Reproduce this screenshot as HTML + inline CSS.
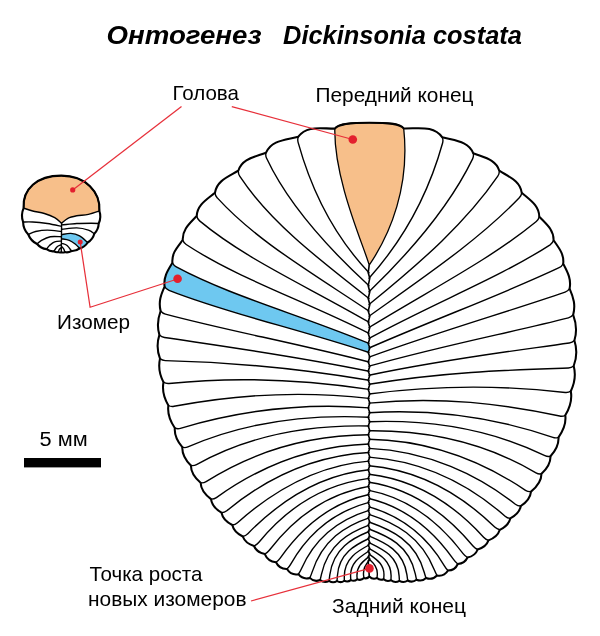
<!DOCTYPE html>
<html lang="ru"><head><meta charset="utf-8"><title>Онтогенез Dickinsonia costata</title>
<style>
html,body{margin:0;padding:0;background:#fff}
svg{display:block}
text{font-family:"Liberation Sans",sans-serif;fill:#000}
svg{will-change:transform;opacity:.999}
.t{font-size:25px;font-weight:bold;font-style:italic}
.l{font-size:20.7px}
.r{stroke:#e7303a;stroke-width:1.25;fill:none}
.d{fill:#e3202e}
</style></head><body>
<svg width="600" height="636" viewBox="0 0 600 636">
<rect width="600" height="636" fill="#fff"/>
<text class="t" x="106.5" y="44.0" textLength="155.0" lengthAdjust="spacingAndGlyphs">Онтогенез</text>
<text class="t" x="283.0" y="44.0" textLength="239.0" lengthAdjust="spacingAndGlyphs">Dickinsonia costata</text>
<text class="l" x="172.5" y="100.0" textLength="66.5" lengthAdjust="spacingAndGlyphs">Голова</text>
<text class="l" x="315.5" y="102.4" textLength="158.0" lengthAdjust="spacingAndGlyphs">Передний конец</text>
<text class="l" x="57.0" y="328.7" textLength="73.0" lengthAdjust="spacingAndGlyphs">Изомер</text>
<text class="l" x="39.5" y="446.0" textLength="48.1" lengthAdjust="spacingAndGlyphs">5 мм</text>
<text class="l" x="89.5" y="581.0" textLength="113.0" lengthAdjust="spacingAndGlyphs">Точка роста</text>
<text class="l" x="88.0" y="605.6" textLength="158.5" lengthAdjust="spacingAndGlyphs">новых изомеров</text>
<text class="l" x="332.0" y="612.5" textLength="134.0" lengthAdjust="spacingAndGlyphs">Задний конец</text>

<rect x="24" y="458" width="77" height="9.4" fill="#000"/>
<!-- big specimen -->
<path d="M369.3,576.5C368,578.1 366,578.7 364,578.1C362.1,579.9 359.6,580.3 357.2,579.2C355.4,580.8 353,581.2 350.8,580.1C348.9,581.6 346.5,581.9 344.3,580.7C342.1,582.4 339.4,582.5 337,581C334.5,582.7 331.5,582.6 329.1,580.9C326.1,582.5 322.8,582.2 320.1,580C316.5,581.6 312.6,580.8 309.8,577.9C305.4,579.2 301.2,577.8 298.4,574.2C293.7,575 289.5,573.1 287,569C282.1,569.2 278.1,566.7 276,562.3C270.7,561.7 266.8,558.9 264.8,554.1C259.8,553.1 256,550.7 254,546C248.7,544.3 244.7,541.8 242.8,536.5C237.5,533.9 233.6,530.8 232.3,525C226.8,522.2 222.7,518.8 221.5,512.7C215.9,509.3 211.9,505.6 211,499.1C205.1,494.7 200.9,490.1 200.6,482.8C194.9,477.9 190.9,473 190.9,465.5C185.5,460.1 182,454.9 182.3,447.2C177.2,441.2 174.2,435.8 174.8,428C169.8,420.6 167.1,414.3 168.4,405.5C163.8,397.7 161.8,391.1 163.5,382.2C159.3,374.1 158,367.5 160,358.6C156.8,350.2 156.6,343.5 159.4,334.9C156.7,326.2 157.5,319.5 160.6,311C158.4,301.9 160.7,295.1 164.6,286.6C163.3,277.2 167.4,270.9 172.4,262.8C171.6,253.3 177,247.6 182.7,240C182.3,229.4 189.5,223.7 196.7,216C197.2,204.8 206.3,199.8 215,192.7C216.9,180.7 227.9,177 238.3,170.7C242.1,158.7 254.3,157.2 266,152.7C271.4,140.1 285,140.1 298.3,136.7C306.6,125.2 320.6,128.7 334.8,128.6C338.5,123.4 352,122.7 369.4,122.7C386.5,122.7 400,123.3 403.7,128.4C418.8,128.7 433.6,125 442.3,137.3C455.1,140.8 468.3,141 473.3,153.3C484.4,157.7 495.8,159.3 499.3,170.7C509.4,177.1 520.1,180.9 521.7,192.7C530.2,200.2 539.1,205.4 539.3,216.7C546.6,224.3 553.8,229.8 553.6,240.3C559.1,248.2 564.3,254.2 563.2,263.8C567.7,272.4 571.5,279.1 569.6,288.6C573.6,297.8 575.7,305.1 573.2,314.8C576.6,324 577.3,331.2 574.4,340.5C577.4,349.7 577.1,356.9 573.7,366C576.2,375.3 574.9,382.5 570.8,391.2C572.5,400.4 570.1,407.2 565.3,415.3C566.4,424 563.6,430.2 558.5,437.3C559,445.1 555.8,450.5 550.5,456.3C550.7,463.8 547,468.7 541.5,473.8C541.4,481.7 537.1,486.7 531,491.6C530.4,498.3 526.4,502.3 520.8,506C519.7,512.1 515.7,515.5 510.3,518.4C509,524.1 505.1,527.2 499.8,529.8C498.1,535.4 494,538.3 488.5,540.4C486.7,545.4 482.9,548 477.7,549.5C475.9,554.1 472.3,556.6 467.5,557.5C465.7,561.5 462.2,563.7 457.8,564C456,568.1 452.5,570.5 448,570.5C445.6,574.4 441.5,576.3 437,575.5C434.1,578.6 430,579.5 426,578C423.4,580.6 419.9,581.2 416.5,579.7C413.9,581.8 410.6,582.1 407.7,580.5C405.1,582.4 402.1,582.5 399.4,580.8C396.6,582.4 393.5,582.2 391,580.2C388.5,581.4 385.8,581.1 383.7,579.2C381.3,580.2 378.9,579.8 377,578C374.3,579.2 371.4,578.6 369.3,576.5Z" fill="#fff" stroke="none"/>
<path d="M369.2,265.1 C363.5,245 334,180 334.8,128.6C338.5,123.4 352,122.7 369.4,122.7C386.5,122.7 400,123.3 403.7,128.4C410,186 390.5,234 369.2,265.1Z" fill="#f7bf8a" stroke="#000" stroke-width="1.3" stroke-linejoin="round"/>
<path d="M369,343.4C296.2,313.3 231.1,296.3 176.3,266.9Q173.7,265.5 172.4,262.8C167.4,270.9 163.3,277.2 164.6,286.6Q166.2,289.2 169,290.3C227.4,313.4 293.4,327.6 369,352.5Z" fill="#6ec8f0" stroke="none"/>
<path d="M369,278.2C408,234.8 430.1,187.8 442.6,143Q443.4,140.1 442.3,137.3M369,291.8C415.1,247.3 450.5,204.4 472.6,158.9Q473.9,156.2 473.3,153.3M369,304.5C422.7,261 467,221.2 497.8,176.2Q499.5,173.7 499.3,170.7M369,316.2C428.2,274 479.5,239.2 519.3,197.8Q521.4,195.7 521.7,192.7M369,327.5C433.2,288.2 490.4,259.2 536.3,221.5Q538.6,219.6 539.3,216.7M369,338.4C437.1,301.4 498.7,278 550.1,244.8Q552.6,243.1 553.6,240.3M369,348C440.9,316.7 503.1,294.2 559.1,267.7Q561.8,266.5 563.2,263.8M369,357.1C442.8,330.3 506.5,312.3 565.1,292.1Q567.9,291.1 569.6,288.6M369,366.2C444.1,345.1 508.7,333 568.4,317.9Q571.3,317.1 573.2,314.8M369,375.3C444.4,359.3 509,351.6 569.3,343Q572.3,342.6 574.4,340.5M369,384.3C444,371.8 508.4,370 568.4,368Q571.4,367.9 573.7,366M369,394C443,384.3 506.8,385.7 565.3,392.5Q568.3,392.8 570.8,391.2M369,403.1C441.3,395.9 503.6,404.2 559.7,416Q562.6,416.7 565.3,415.3M369,412.7C439.4,408.4 500.2,419.2 552.9,437.4Q555.7,438.4 558.5,437.3M369,421.7C437,419.3 496.6,432.1 544.9,455.7Q547.6,457 550.5,456.3M369,430.8C434.4,430.2 491.5,446.5 536,472.8Q538.5,474.3 541.5,473.8M369,439.3C431.5,440.4 484.5,462.8 525.5,490.3Q528,491.9 531,491.6M369,448.4C428.5,451 478.5,475.2 515.4,504.3Q517.8,506.1 520.8,506M369,457.1C424.4,461 470.5,485.8 505.1,516.2Q507.3,518.2 510.3,518.4M369,465.7C420.2,470.2 462.2,495.3 494.7,527.1Q496.9,529.2 499.8,529.8M369,474.2C415.7,479.5 453.6,504.2 483.6,537.2Q485.7,539.5 488.5,540.4M369,482.3C411.4,488.6 445.1,512.6 473,546Q475,548.3 477.7,549.5M369,490.4C407.2,497.8 437.6,519.9 463.1,553.6Q464.9,555.9 467.5,557.5M369,498.5C403.1,506.7 430.4,526.5 453.7,559.7Q455.4,562.2 457.8,564M369,506.8C399.2,515.5 424.7,532.5 444.4,565.8Q445.9,568.4 448,570.5M369,514.3C395.1,522.8 421.1,536.4 434.4,570.1Q435.5,572.9 437,575.5M369,522C390.7,529.7 415.6,540.4 424.2,572.3Q425,575.2 426,578M369,529C387,535.9 409.2,544.8 415.3,573.8Q415.9,576.8 416.5,579.7M369,536C383.9,542.3 403.4,550 406.9,574.7Q407.3,577.6 407.7,580.5M369,542.5C381.1,548.4 397.9,555.3 399.1,575.9Q399.3,578.4 399.4,580.8M369,548.5C378.2,553.8 391.4,560 391.1,576.3Q391,578.3 391,580.2M369,554C375.5,558.7 384.9,564 383.9,576.3Q383.8,577.7 383.7,579.2M369,559C373.1,562.9 378.3,567.3 377.2,576Q377.1,577 377,578M369,272.7C330.8,232.5 310.5,187 298.1,142.4Q297.3,139.5 298.3,136.7M369,285.7C323.2,243.7 287.4,202.7 266.6,158.3Q265.3,155.6 266,152.7M369,298.5C315.7,256.9 269.1,220.8 239.7,176.2Q238.1,173.7 238.3,170.7M369,311.1C309.2,271.1 255.5,239.9 217.3,197.9Q215.2,195.7 215,192.7M369,322.2C304.1,284.7 245.1,258.8 199.6,220.9Q197.3,218.9 196.7,216M369,333.3C299.9,298.8 237.1,278.1 186.2,244.5Q183.7,242.8 182.7,240M369,343.4C296.2,313.3 231.1,296.3 176.3,266.9Q173.7,265.5 172.4,262.8M369,352.5C293.4,327.6 227.4,313.4 169,290.3Q166.2,289.2 164.6,286.6M369,362C292,342.3 226,330.3 165.4,314.1Q162.5,313.3 160.6,311M369,371.3C291.8,355.5 226,346.7 164.5,337.5Q161.5,337 159.4,334.9M369,380.3C292.3,367.3 226.7,362.1 165.3,360.6Q162.3,360.5 160,358.6M369,389.4C293.8,378.2 228.7,377.2 169,383.5Q166,383.8 163.5,382.2M369,398.4C295.3,389.9 231.5,395.3 174,406.3Q171.1,406.9 168.4,405.5M369,407.9C297.2,402.1 235,412 180.4,428.3Q177.6,429.2 174.8,428M369,417.2C299.4,413.9 238.4,425 187.9,446.9Q185.2,448.1 182.3,447.2M369,426C301.8,424.5 242.8,438.8 196.5,464.6Q193.8,466.1 190.9,465.5M369,434.8C304.6,435.1 249.1,454.5 206.1,481.6Q203.6,483.2 200.6,482.8M369,444C307.6,445.9 255.8,469.3 216.4,497.6Q214,499.3 211,499.1M369,452.5C310.8,455.8 262.4,481.2 226.8,510.8Q224.5,512.7 221.5,512.7M369,461.1C315.2,465.3 271.8,492.2 237.5,522.7Q235.3,524.7 232.3,525M369,469.8C319.3,474.8 279.6,501.3 247.8,533.7Q245.7,535.8 242.8,536.5M369,478.4C323.9,484.3 286.7,508.2 258.7,542.5Q256.8,544.8 254,546M369,486.4C328.4,493.4 295.5,516.1 269.3,550.3Q267.5,552.6 264.8,554.1M369,494.5C332.7,502.4 304.1,524.2 280.2,558.1Q278.4,560.6 276,562.3M369,502.4C337,510.8 310.2,529.9 290.6,564.3Q289.1,566.9 287,569M369,510.3C341.4,518.7 316.1,534.9 301.3,569Q300.1,571.7 298.4,574.2M369,517.8C345.6,525.7 322.5,539.7 312,572.4Q311.1,575.2 309.8,577.9M369,525.2C349.6,532.4 328.1,543.9 321.5,574.2Q320.9,577.1 320.1,580M369,531.5C352.7,538.1 333.3,548.2 329.8,574.9Q329.4,577.9 329.1,580.9M369,538.5C355.7,544.6 338.8,553.3 337.4,575.7Q337.2,578.4 337,581M369,545C358.4,550.6 344.4,558 344.3,576.4Q344.3,578.6 344.3,580.7M369,551C361.1,556.2 350,562.1 350.6,576.6Q350.7,578.3 350.8,580.1M369,556.6C363.6,561.1 356.2,565.9 357,576.7Q357.1,577.9 357.2,579.2M369,560.7C365.6,564.3 362.5,568.8 363.7,576.3Q363.9,577.2 364,578.1" fill="none" stroke="#000" stroke-width="1.4" stroke-linecap="round"/>
<path d="M369.2,265.1L368.2,272.7L369.8,278.2L368.2,285.7L369.8,291.8L368.2,298.5L369.8,304.5L368.2,311.1L369.8,316.2L368.2,322.2L369.8,327.5L368.2,333.3L369.8,338.4L368.2,343.4L369.8,348L368.2,352.5L369.8,357.1L368.2,362L369.8,366.2L368.2,371.3L369.8,375.3L368.2,380.3L369.8,384.3L368.2,389.4L369.8,394L368.2,398.4L369.8,403.1L368.2,407.9L369.8,412.7L368.2,417.2L369.8,421.7L368.2,426L369.8,430.8L368.2,434.8L369.8,439.3L368.2,444L369.8,448.4L368.2,452.5L369.8,457.1L368.2,461.1L369.8,465.7L368.2,469.8L369.8,474.2L368.2,478.4L369.8,482.3L368.2,486.4L369.8,490.4L368.2,494.5L369.8,498.5L368.2,502.4L369.8,506.8L368.2,510.3L369.8,514.3L368.2,517.8L369.8,522L368.2,525.2L369.8,529L368.2,531.5L369.8,536L368.2,538.5L369.8,542.5L368.2,545L369.8,548.5L368.2,551L369.8,554L368.2,556.6L369.8,559L368.2,560.7L369.3,576.5" fill="none" stroke="#000" stroke-width="1.6" stroke-linejoin="round"/>
<path d="M369.3,576.5C368,578.1 366,578.7 364,578.1C362.1,579.9 359.6,580.3 357.2,579.2C355.4,580.8 353,581.2 350.8,580.1C348.9,581.6 346.5,581.9 344.3,580.7C342.1,582.4 339.4,582.5 337,581C334.5,582.7 331.5,582.6 329.1,580.9C326.1,582.5 322.8,582.2 320.1,580C316.5,581.6 312.6,580.8 309.8,577.9C305.4,579.2 301.2,577.8 298.4,574.2C293.7,575 289.5,573.1 287,569C282.1,569.2 278.1,566.7 276,562.3C270.7,561.7 266.8,558.9 264.8,554.1C259.8,553.1 256,550.7 254,546C248.7,544.3 244.7,541.8 242.8,536.5C237.5,533.9 233.6,530.8 232.3,525C226.8,522.2 222.7,518.8 221.5,512.7C215.9,509.3 211.9,505.6 211,499.1C205.1,494.7 200.9,490.1 200.6,482.8C194.9,477.9 190.9,473 190.9,465.5C185.5,460.1 182,454.9 182.3,447.2C177.2,441.2 174.2,435.8 174.8,428C169.8,420.6 167.1,414.3 168.4,405.5C163.8,397.7 161.8,391.1 163.5,382.2C159.3,374.1 158,367.5 160,358.6C156.8,350.2 156.6,343.5 159.4,334.9C156.7,326.2 157.5,319.5 160.6,311C158.4,301.9 160.7,295.1 164.6,286.6C163.3,277.2 167.4,270.9 172.4,262.8C171.6,253.3 177,247.6 182.7,240C182.3,229.4 189.5,223.7 196.7,216C197.2,204.8 206.3,199.8 215,192.7C216.9,180.7 227.9,177 238.3,170.7C242.1,158.7 254.3,157.2 266,152.7C271.4,140.1 285,140.1 298.3,136.7C306.6,125.2 320.6,128.7 334.8,128.6C338.5,123.4 352,122.7 369.4,122.7C386.5,122.7 400,123.3 403.7,128.4C418.8,128.7 433.6,125 442.3,137.3C455.1,140.8 468.3,141 473.3,153.3C484.4,157.7 495.8,159.3 499.3,170.7C509.4,177.1 520.1,180.9 521.7,192.7C530.2,200.2 539.1,205.4 539.3,216.7C546.6,224.3 553.8,229.8 553.6,240.3C559.1,248.2 564.3,254.2 563.2,263.8C567.7,272.4 571.5,279.1 569.6,288.6C573.6,297.8 575.7,305.1 573.2,314.8C576.6,324 577.3,331.2 574.4,340.5C577.4,349.7 577.1,356.9 573.7,366C576.2,375.3 574.9,382.5 570.8,391.2C572.5,400.4 570.1,407.2 565.3,415.3C566.4,424 563.6,430.2 558.5,437.3C559,445.1 555.8,450.5 550.5,456.3C550.7,463.8 547,468.7 541.5,473.8C541.4,481.7 537.1,486.7 531,491.6C530.4,498.3 526.4,502.3 520.8,506C519.7,512.1 515.7,515.5 510.3,518.4C509,524.1 505.1,527.2 499.8,529.8C498.1,535.4 494,538.3 488.5,540.4C486.7,545.4 482.9,548 477.7,549.5C475.9,554.1 472.3,556.6 467.5,557.5C465.7,561.5 462.2,563.7 457.8,564C456,568.1 452.5,570.5 448,570.5C445.6,574.4 441.5,576.3 437,575.5C434.1,578.6 430,579.5 426,578C423.4,580.6 419.9,581.2 416.5,579.7C413.9,581.8 410.6,582.1 407.7,580.5C405.1,582.4 402.1,582.5 399.4,580.8C396.6,582.4 393.5,582.2 391,580.2C388.5,581.4 385.8,581.1 383.7,579.2C381.3,580.2 378.9,579.8 377,578C374.3,579.2 371.4,578.6 369.3,576.5Z" fill="none" stroke="#000" stroke-width="2.05" stroke-linejoin="round"/>
<!-- small specimen -->
<path d="M61.3,252.2Q59.8,252.7 58.3,252.1Q55.9,252.6 53.9,251.3Q49.8,251.7 46.6,249.1Q40.8,248.5 37.1,244Q30.8,241 28.3,234.5Q23.2,229.3 23.1,222Q20.6,215 23.6,208.1C22.3,189 37,175.6 61.3,175.6C85.6,175.6 100.7,192 99.4,211Q101.6,217.4 98.7,223.5Q98.5,229.5 94.3,233.7Q92.8,239.4 87.7,242.5Q84.8,247.1 79.6,248.4Q76.1,251.3 71.5,251Q68.4,252.9 64.9,252.1Q63.1,252.9 61.3,252.2Z" fill="#fff"/>
<path d="M23.6,208.1C25.1,208.6 29.2,210.1 32.7,211C36.2,211.9 40.7,212.4 44.4,213.5C48.1,214.6 51.8,216 54.7,217.6C57.6,219.2 60.5,222.3 61.6,223.2C62.7,222.4 65.4,219.5 67.9,218.3C70.4,217.1 73.3,216.5 76.7,215.8C80.1,215.2 84.6,215.2 88.4,214.4C92.2,213.6 97.6,211.6 99.4,211C100.7,192 85.6,175.6 61.3,175.6C37,175.6 22.3,189 23.6,208.1Z" fill="#f7bf8a" stroke="#000" stroke-width="1.4" stroke-linejoin="round"/>
<path d="M62,234.5C63.5,234.3 67.9,233.2 70.8,233.4C73.7,233.6 76.8,234.4 79.6,235.9C82.4,237.4 86.3,241.4 87.7,242.5Q84.8,247.1 79.6,248.4C78.9,247.7 76.9,245.3 75.2,244C73.5,242.7 71.5,241.2 69.3,240.3C67.1,239.5 63.2,239.1 62,238.9Z" fill="#6ec8f0"/>
<path d="M61.3,226.4C59,225.9 52.1,224.2 47.3,223.5C42.5,222.8 36.7,222.2 32.7,222C28.7,221.8 24.7,222 23.1,222M61.3,231.5C59,231.3 51.6,230.1 47.3,230.1C43,230.1 38.8,230.8 35.6,231.5C32.4,232.2 29.5,234 28.3,234.5M61.3,236.7C59.5,236.7 53.6,236.1 50.3,236.7C47,237.3 43.7,239.1 41.5,240.3C39.3,241.5 37.8,243.4 37.1,244M61.3,241.1C60.2,241.2 56.7,241.1 54.7,241.8C52.7,242.5 50.9,244.3 49.5,245.5C48.1,246.7 47.1,248.5 46.6,249.1M61.3,244.7C60.6,245.1 58.1,245.8 56.9,246.9C55.7,248 54.4,250.6 53.9,251.3M61.3,247.5C61,247.8 59.8,248.5 59.3,249.3C58.8,250.1 58.5,251.6 58.3,252.1M62,224.9C64.5,224.7 71.8,223.8 76.7,223.5C81.6,223.2 87.6,223.2 91.3,223.2C95,223.2 97.5,223.4 98.7,223.5M62,229.3C64.5,229.1 72.3,227.8 76.7,227.9C81.1,228 85.5,229.1 88.4,230.1C91.3,231.1 93.3,233.1 94.3,233.7M62,234.5C63.5,234.3 67.9,233.2 70.8,233.4C73.7,233.6 76.8,234.4 79.6,235.9C82.4,237.4 86.3,241.4 87.7,242.5M62,238.9C63.2,239.1 67.1,239.5 69.3,240.3C71.5,241.2 73.5,242.7 75.2,244C76.9,245.3 78.9,247.7 79.6,248.4M61.7,243.3C62.6,243.7 65.5,244.2 67.1,245.5C68.7,246.8 70.8,250.1 71.5,251M61.6,246.6C62,247 63.2,248.2 63.8,249.1C64.3,250 64.7,251.6 64.9,252.1M61.6,223.2L61.3,252.2" fill="none" stroke="#000" stroke-width="1.4" stroke-linecap="round"/>
<path d="M61.3,252.2Q59.8,252.7 58.3,252.1Q55.9,252.6 53.9,251.3Q49.8,251.7 46.6,249.1Q40.8,248.5 37.1,244Q30.8,241 28.3,234.5Q23.2,229.3 23.1,222Q20.6,215 23.6,208.1C22.3,189 37,175.6 61.3,175.6C85.6,175.6 100.7,192 99.4,211Q101.6,217.4 98.7,223.5Q98.5,229.5 94.3,233.7Q92.8,239.4 87.7,242.5Q84.8,247.1 79.6,248.4Q76.1,251.3 71.5,251Q68.4,252.9 64.9,252.1Q63.1,252.9 61.3,252.2Z" fill="none" stroke="#000" stroke-width="2.1" stroke-linejoin="round"/>

<!-- leader lines -->
<path class="r" d="M181.5,106.6L72.7,189.9"/>
<path class="r" d="M231.8,106.6L352.8,139.5"/>
<path class="r" d="M80.2,242L90.1,307.3L177.5,279"/>
<path class="r" d="M251,601L369.5,568.4"/>
<circle class="d" cx="352.8" cy="139.5" r="4.3"/>
<circle class="d" cx="177.6" cy="278.8" r="4.3"/>
<circle class="d" cx="369.5" cy="568.4" r="4.3"/>
<circle class="d" cx="72.7" cy="189.9" r="2.6"/>
<circle class="d" cx="80.2" cy="242" r="2.5"/>
</svg>
</body></html>
